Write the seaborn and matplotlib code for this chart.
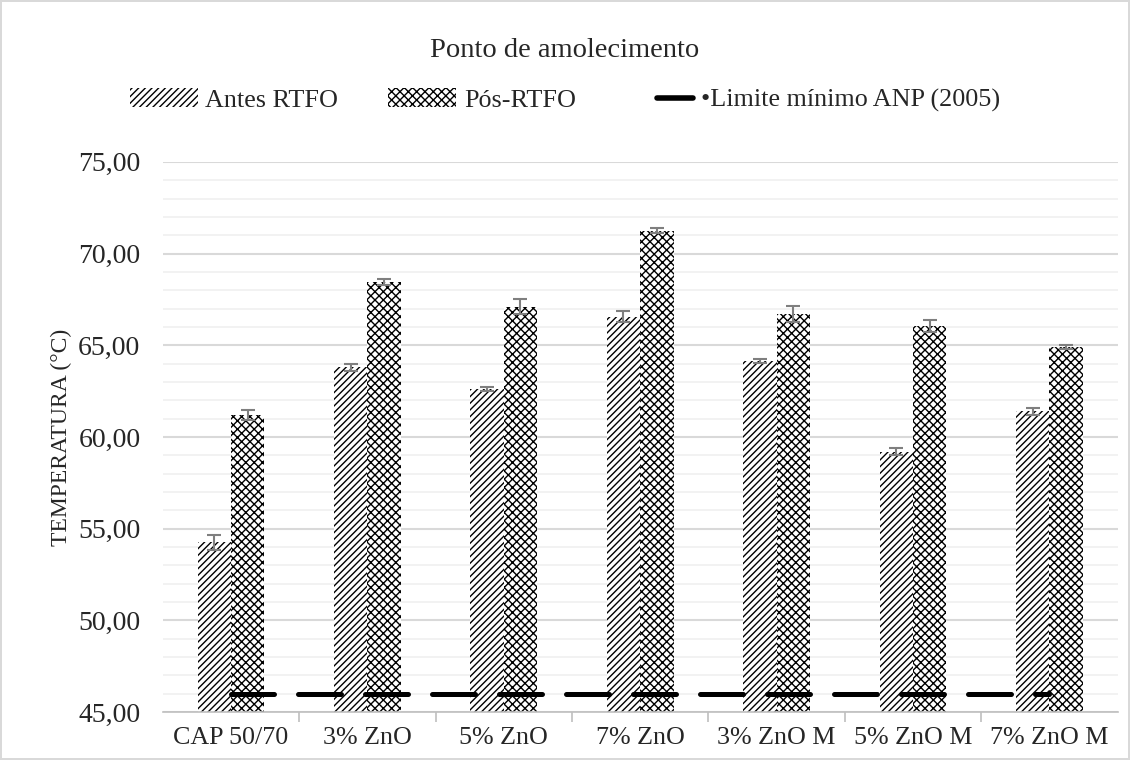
import numpy as np
import pandas as pd
import seaborn as sns
import matplotlib.pyplot as plt
from matplotlib.ticker import FuncFormatter, MultipleLocator, FixedLocator
from matplotlib.lines import Line2D
from matplotlib.legend_handler import HandlerLine2D

# dados
amostras = ["CAP 50/70", "3% ZnO", "5% ZnO", "7% ZnO", "3% ZnO M", "5% ZnO M", "7% ZnO M"]
antes_rtfo = [54.25, 63.8, 62.6, 66.55, 64.15, 59.2, 61.4]
antes_err = [0.4, 0.2, 0.1, 0.3, 0.1, 0.2, 0.2]
pos_rtfo = [61.2, 68.45, 67.1, 71.25, 66.7, 66.05, 64.9]
pos_err = [0.25, 0.15, 0.4, 0.15, 0.45, 0.35, 0.1]
limite_anp = [46.0] * len(amostras)

sns.set_style("white")
plt.rcParams['font.family'] = ['Liberation Serif', 'DejaVu Serif']
plt.rcParams['hatch.linewidth'] = 1.0

df = pd.DataFrame({
    "amostra": amostras * 2,
    "temp": antes_rtfo + pos_rtfo,
    "cond": ["Antes RTFO"] * len(amostras) + ["Pós-RTFO"] * len(amostras),
})

fig = plt.figure(figsize=(11.3, 7.6), dpi=100)
fig.patch.set_edgecolor('#d9d9d9')
fig.patch.set_linewidth(1.5)
ax = fig.add_axes([0.144, 0.063, 0.845, 0.724])

sns.barplot(data=df, x="amostra", y="temp", hue="cond", palette=["white", "white"],
            width=0.49, gap=0, errorbar=None, ax=ax)

hatches = ["/////", "xxxx"]
errs = [antes_err, pos_err]
vals = [antes_rtfo, pos_rtfo]
for cont, h, e, v in zip(ax.containers, hatches, errs, vals):
    for p in cont.patches:
        p.set_facecolor("white")
        p.set_edgecolor("black")
        p.set_linewidth(0)
        p.set_hatch(h)
    xs = [p.get_x() + p.get_width() / 2 for p in cont.patches]
    ax.errorbar(xs, v, yerr=e, fmt="none", ecolor="#7f7f7f", elinewidth=1.5,
                capsize=5, capthick=1.5, zorder=5)

ax.plot(range(len(amostras)), limite_anp, color="black", lw=3.6,
        dashes=(8.6, 4.8), dash_capstyle="round", zorder=6)

ax.set_ylim(45, 75)
ax.set_xlim(-0.5, len(amostras) - 0.5)
ax.yaxis.set_major_locator(MultipleLocator(5))
ax.yaxis.set_minor_locator(MultipleLocator(1))
ax.yaxis.set_major_formatter(FuncFormatter(lambda y, _: f"{y:.2f}".replace(".", ",")))
ax.grid(axis="y", which="major", color="#d9d9d9", lw=1.5, zorder=0)
ax.grid(axis="y", which="minor", color="#f0f0f0", lw=1.2, zorder=0)
ax.set_axisbelow(True)

ax.xaxis.set_minor_locator(FixedLocator(np.arange(0.5, len(amostras) - 0.5, 1)))
ax.tick_params(axis="x", which="major", length=0, labelsize=18.7, pad=11)
ax.tick_params(axis="x", which="minor", length=7, color="#bfbfbf", width=1.2, bottom=True)
ax.tick_params(axis="y", which="both", length=0, labelsize=20, pad=16)

for s in ["top", "right", "left"]:
    ax.spines[s].set_visible(False)
ax.spines["bottom"].set_color("#bfbfbf")
ax.spines["bottom"].set_linewidth(1.2)

ax.set_xlabel("")
ax.set_ylabel("TEMPERATURA (°C)", fontsize=17)
ax.yaxis.set_label_coords(-0.095, 0.5)

if ax.get_legend() is not None:
    ax.get_legend().remove()
lim_handle = Line2D([], [], color="black", lw=4, solid_capstyle="round")
handles = [ax.containers[0], ax.containers[1], lim_handle]
labels = ["Antes RTFO", "Pós-RTFO", "•Limite mínimo ANP (2005)"]
fig.legend(handles, labels, loc="center", bbox_to_anchor=(0.5, 0.868), ncol=3,
           frameon=False, fontsize=18.8, handlelength=2.6, handleheight=0.7,
           columnspacing=1.9, handletextpad=0.3,
           handler_map={lim_handle: HandlerLine2D(xpad=1.2)})

fig.text(0.5, 0.934, "Ponto de amolecimento", ha="center", va="center", fontsize=20.5)

fig.savefig("out.png", dpi=100)
